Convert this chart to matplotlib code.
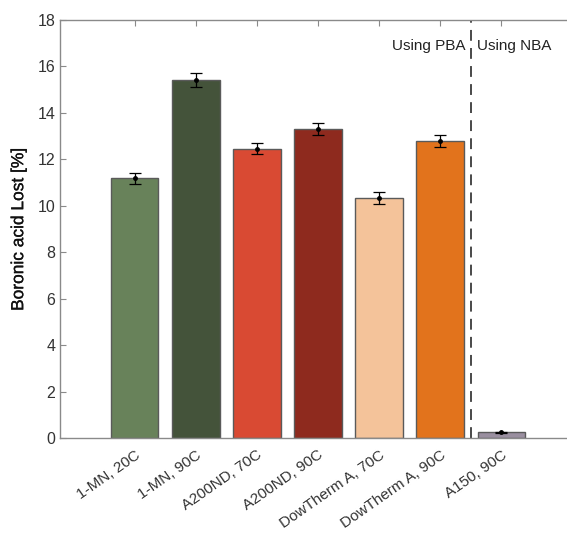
import matplotlib
matplotlib.use("Agg")
import matplotlib.pyplot as plt
import matplotlib.patheffects as pe
import numpy as np

plt.rcParams['font.family'] = ['Liberation Sans', 'DejaVu Sans']

labels = ["1-MN, 20C", "1-MN, 90C", "A200ND, 70C", "A200ND, 90C",
          "DowTherm A, 70C", "DowTherm A, 90C", "A150, 90C"]
lost = [11.18, 15.42, 12.46, 13.31, 10.34, 12.79, 0.24]
err = [0.25, 0.29, 0.25, 0.27, 0.25, 0.26, 0.02]
colors = ["#68825a", "#44533a", "#d94a33", "#8e2a1e",
          "#f4c39a", "#e2731c", "#9a8fa0"]

fig = plt.figure(figsize=(5.67, 5.33), dpi=100)
ax = fig.add_axes([60 / 567, 95 / 533, 1 - 60 / 567 + 0.003, 418 / 533])

x = np.arange(1, len(labels) + 1)
ax.bar(x, lost, width=0.78, color=colors, edgecolor="#5a5a5a", linewidth=1.0, zorder=2)
ax.errorbar(x, lost, yerr=err, fmt="o", color="black", markersize=2.5,
            capsize=4.5, elinewidth=0.9, capthick=0.9, zorder=3)

# split between PBA and NBA runs
ax.axvline(6.5, color="#3a3a3a", linestyle=(0, (6, 4)), linewidth=1.3, zorder=1)
ax.text(6.42, 16.9, "Using PBA", ha="right", va="center", fontsize=11, color="#222222")
ax.text(6.6, 16.9, "Using NBA", ha="left", va="center", fontsize=11, color="#222222")

ax.set_xlim(-0.22, 8.1)
ax.set_ylim(0, 18)
ax.set_yticks(np.arange(0, 19, 2))
ax.set_xticks(x)
ax.set_xticklabels(labels, rotation=35, ha="right", rotation_mode="anchor", fontsize=11)
ax.set_ylabel("Boronic acid Lost [%]", fontsize=12.5, color="#111111", labelpad=8,
              path_effects=[pe.withStroke(linewidth=0.2, foreground="#111111")])

for s in ["left", "bottom", "top"]:
    ax.spines[s].set_color("#8a8a8a")
    ax.spines[s].set_linewidth(1.0)
ax.spines["right"].set_visible(False)
ax.tick_params(direction="in", length=4, color="#8a8a8a", labelsize=11.5,
               labelcolor="#333333", top=True, right=False)
ax.tick_params(axis="x", pad=7, labelsize=11)

fig.savefig("out.png", dpi=100)
